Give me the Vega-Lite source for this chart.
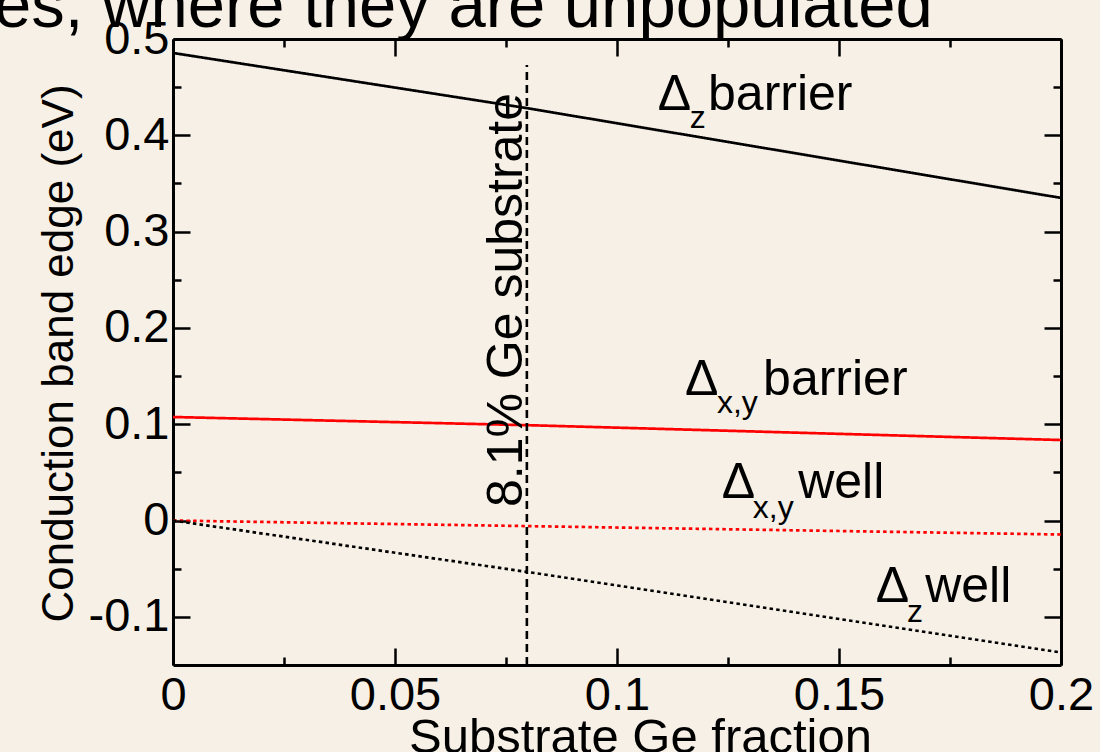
{
  "$schema": "https://vega.github.io/schema/vega-lite/v6.json",
  "width": 888,
  "height": 626,
  "autosize": "none",
  "padding": {"left": 173, "top": 39, "right": 39, "bottom": 87},
  "background": "#f6f0e6",
  "config": {
    "view": {"stroke": null},
    "axis": {
      "domainColor": "black",
      "domainWidth": 3,
      "tickColor": "black",
      "tickWidth": 2.5,
      "labelColor": "black",
      "titleColor": "black",
      "labelFont": "Liberation Sans",
      "titleFont": "Liberation Sans",
      "titleFontWeight": "normal",
      "grid": false,
      "labelFlush": false,
      "labelOverlap": false
    }
  },
  "datasets": {
    "lines": [
      {"series": "dz_barrier", "x": 0, "y": 0.4855},
      {"series": "dz_barrier", "x": 0.08, "y": 0.428},
      {"series": "dz_barrier", "x": 0.2, "y": 0.335},
      {"series": "dxy_barrier", "x": 0, "y": 0.1075},
      {"series": "dxy_barrier", "x": 0.08, "y": 0.099},
      {"series": "dxy_barrier", "x": 0.2, "y": 0.0836},
      {"series": "dxy_well", "x": 0, "y": 0},
      {"series": "dxy_well", "x": 0.2, "y": -0.0145},
      {"series": "dz_well", "x": 0, "y": 0},
      {"series": "dz_well", "x": 0.08, "y": -0.0535},
      {"series": "dz_well", "x": 0.2, "y": -0.137}
    ],
    "marker": [{"x": 0.0797, "y": -0.15, "y2": 0.473}],
    "labels": [
      {"t": "Δ", "x": 0.1092, "y": 0.4263},
      {"t": "barrier", "x": 0.1205, "y": 0.4263},
      {"t": "Δ", "x": 0.1153, "y": 0.1303},
      {"t": "barrier", "x": 0.1329, "y": 0.1303},
      {"t": "Δ", "x": 0.1236, "y": 0.0234},
      {"t": "well", "x": 0.1408, "y": 0.0234},
      {"t": "Δ", "x": 0.1583, "y": -0.0846},
      {"t": "well", "x": 0.1694, "y": -0.0846}
    ],
    "subs": [
      {"t": "z", "x": 0.1164, "y": 0.4076},
      {"t": "x,y", "x": 0.1225, "y": 0.1116},
      {"t": "x,y", "x": 0.1306, "y": 0.0026},
      {"t": "z", "x": 0.1653, "y": -0.1054}
    ],
    "vlabel": [{"t": "8.1% Ge substrate", "x": 0.0786, "y": 0.014}],
    "heading": [{"t": "es, where they are unpopulated", "x": -0.0403, "y": 0.5125}]
  },
  "layer": [
    {
      "data": {"name": "lines"},
      "mark": {"type": "line", "strokeWidth": 2.7, "strokeCap": "butt"},
      "encoding": {
        "x": {
          "field": "x", "type": "quantitative",
          "scale": {"domain": [0, 0.2], "nice": false, "zero": false},
          "axis": {
            "orient": "bottom",
            "values": [0, 0.05, 0.1, 0.15, 0.2],
            "ticks": false,
            "labelFontSize": 47,
            "labelPadding": 44,
            "labelBaseline": "alphabetic",
            "labelExpr": "'' + datum.value",
            "title": "Substrate Ge fraction",
            "titleFontSize": 49,
            "titleX": 467,
            "titleY": 87,
            "titleBaseline": "alphabetic",
            "titleAlign": "center"
          }
        },
        "y": {
          "field": "y", "type": "quantitative",
          "scale": {"domain": [-0.15, 0.5], "nice": false, "zero": false},
          "axis": {
            "orient": "left",
            "values": [-0.1, 0, 0.1, 0.2, 0.3, 0.4, 0.5],
            "ticks": false,
            "labelFontSize": 47,
            "labelPadding": 4,
            "labelBaseline": "middle",
            "labelExpr": "'' + datum.value",
            "title": "Conduction band edge (eV)",
            "titleFontSize": 44,
            "titleX": -101,
            "titleY": 314,
            "titleAngle": 270,
            "titleBaseline": "alphabetic",
            "titleAlign": "center"
          }
        },
        "color": {
          "field": "series", "type": "nominal",
          "scale": {"domain": ["dz_barrier", "dxy_barrier", "dxy_well", "dz_well"], "range": ["#000000", "#ff0000", "#ff0000", "#000000"]},
          "legend": null
        },
        "strokeDash": {
          "field": "series", "type": "nominal",
          "scale": {"domain": ["dz_barrier", "dxy_barrier", "dxy_well", "dz_well"], "range": [[1, 0], [1, 0], [3.5, 3.2], [3.5, 3.2]]},
          "legend": null
        }
      }
    },
    {
      "data": {"name": "marker"},
      "mark": {"type": "rule", "strokeDash": [8, 5], "strokeWidth": 2.6, "color": "black"},
      "encoding": {
        "x": {
          "field": "x", "type": "quantitative",
          "scale": {"domain": [0, 0.2], "nice": false, "zero": false},
          "axis": {"orient": "top", "values": [0, 0.05, 0.1, 0.15, 0.2], "labels": false, "tickSize": -17, "title": null}
        },
        "y": {
          "field": "y", "type": "quantitative",
          "scale": {"domain": [-0.15, 0.5], "nice": false, "zero": false},
          "axis": {"orient": "right", "values": [-0.1, 0, 0.1, 0.2, 0.3, 0.4, 0.5], "labels": false, "tickSize": -17, "title": null}
        },
        "y2": {"field": "y2"}
      }
    },
    {
      "data": {"name": "labels"},
      "mark": {"type": "text", "font": "Liberation Sans", "fontSize": 50, "align": "left", "baseline": "alphabetic", "color": "black"},
      "encoding": {
        "x": {
          "field": "x", "type": "quantitative",
          "scale": {"domain": [0, 0.2], "nice": false, "zero": false},
          "axis": {"orient": "bottom", "values": [0, 0.05, 0.1, 0.15, 0.2], "labels": false, "domain": false, "tickSize": -17, "title": null}
        },
        "y": {
          "field": "y", "type": "quantitative",
          "scale": {"domain": [-0.15, 0.5], "nice": false, "zero": false},
          "axis": {"orient": "left", "values": [-0.1, 0, 0.1, 0.2, 0.3, 0.4, 0.5], "labels": false, "domain": false, "tickSize": -17, "title": null}
        },
        "text": {"field": "t"}
      }
    },
    {
      "data": {"name": "subs"},
      "mark": {"type": "text", "font": "Liberation Sans", "fontSize": 32, "align": "left", "baseline": "alphabetic", "color": "black"},
      "encoding": {
        "x": {
          "field": "x", "type": "quantitative",
          "scale": {"domain": [0, 0.2], "nice": false, "zero": false},
          "axis": {"orient": "bottom", "values": [0.025, 0.075, 0.125, 0.175], "labels": false, "domain": false, "tickSize": -8, "title": null}
        },
        "y": {
          "field": "y", "type": "quantitative",
          "scale": {"domain": [-0.15, 0.5], "nice": false, "zero": false},
          "axis": {"orient": "left", "values": [-0.05, 0.05, 0.15, 0.25, 0.35, 0.45], "labels": false, "domain": false, "tickSize": -8, "title": null}
        },
        "text": {"field": "t"}
      }
    },
    {
      "data": {"name": "vlabel"},
      "mark": {"type": "text", "font": "Liberation Sans", "fontSize": 50, "align": "left", "baseline": "alphabetic", "angle": 270, "color": "black"},
      "encoding": {
        "x": {
          "field": "x", "type": "quantitative",
          "scale": {"domain": [0, 0.2], "nice": false, "zero": false},
          "axis": {"orient": "top", "values": [0.025, 0.075, 0.125, 0.175], "labels": false, "domain": false, "tickSize": -8, "title": null}
        },
        "y": {
          "field": "y", "type": "quantitative",
          "scale": {"domain": [-0.15, 0.5], "nice": false, "zero": false},
          "axis": {"orient": "right", "values": [-0.05, 0.05, 0.15, 0.25, 0.35, 0.45], "labels": false, "domain": false, "tickSize": -8, "title": null}
        },
        "text": {"field": "t"}
      }
    },
    {
      "data": {"name": "heading"},
      "mark": {"type": "text", "font": "Liberation Sans", "fontSize": 67, "align": "left", "baseline": "alphabetic", "color": "black"},
      "encoding": {
        "x": {"field": "x", "type": "quantitative", "scale": {"domain": [0, 0.2], "nice": false, "zero": false}, "axis": null},
        "y": {"field": "y", "type": "quantitative", "scale": {"domain": [-0.15, 0.5], "nice": false, "zero": false}, "axis": null},
        "text": {"field": "t"}
      }
    }
  ]
}
